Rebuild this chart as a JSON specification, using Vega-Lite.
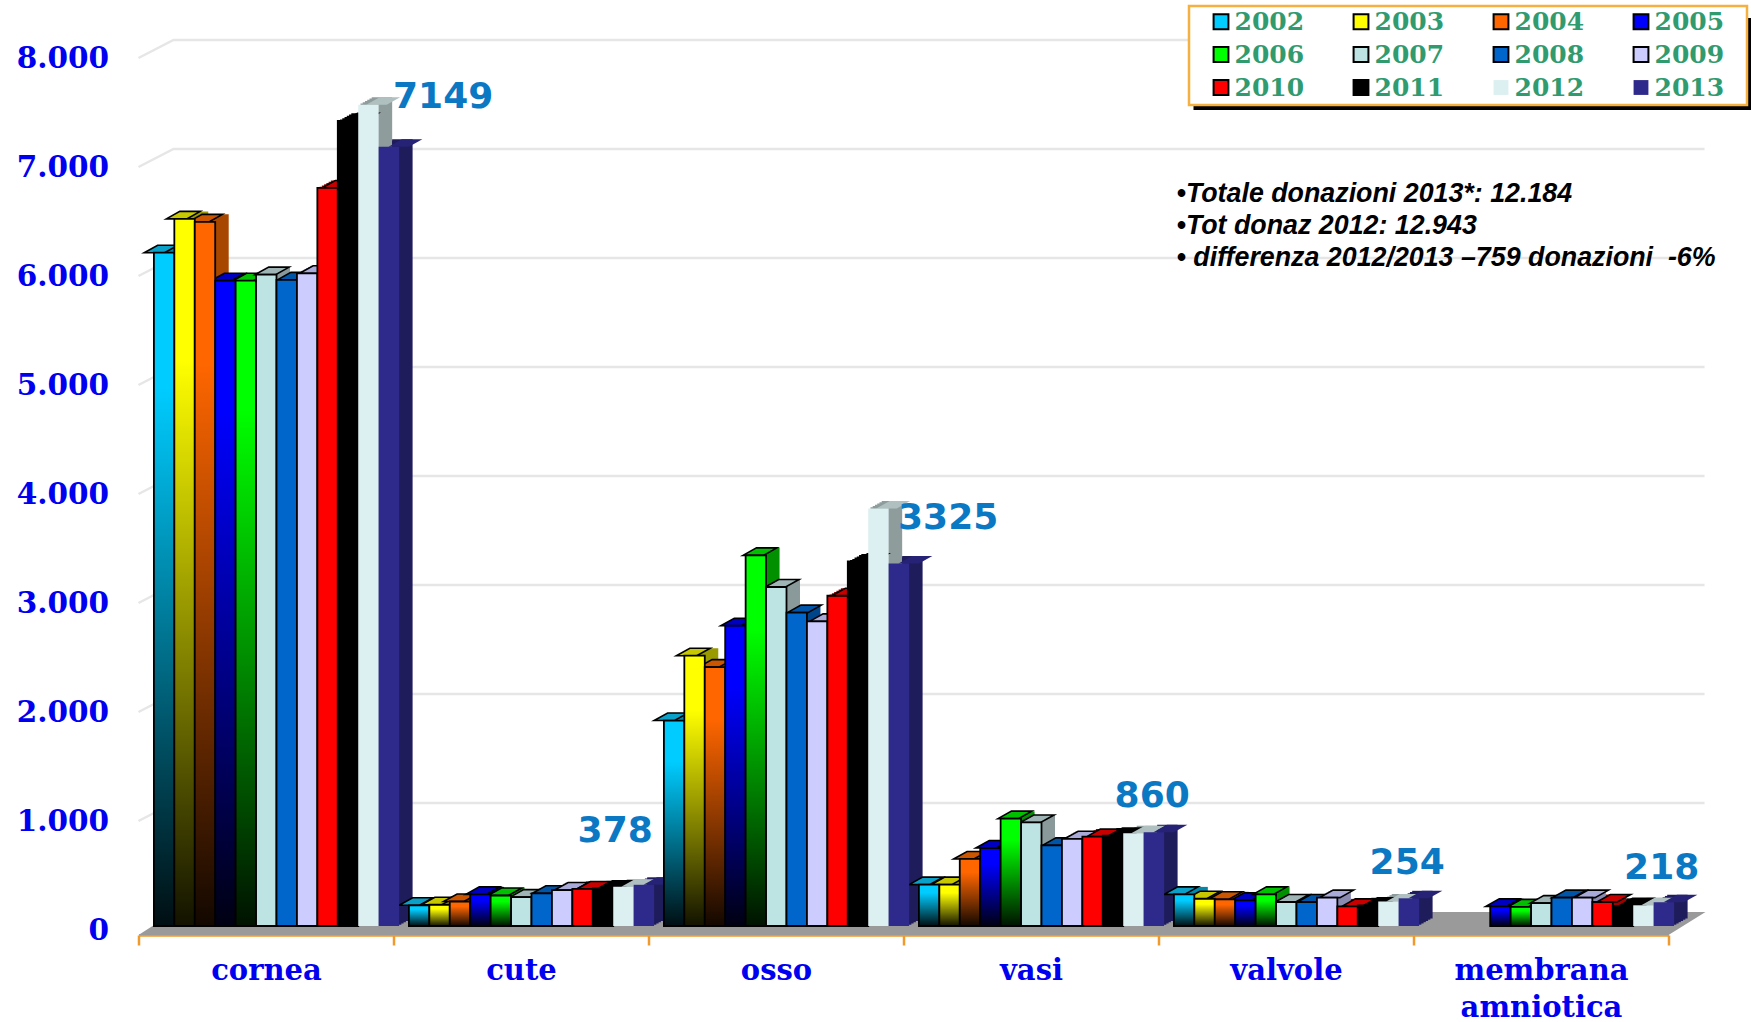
{"$schema":"https://vega.github.io/schema/vega-lite/v6.json","width":1530,"height":872,"autosize":"none","padding":{"left":138.5,"top":58,"right":82.5,"bottom":92},"background":"white","config":{"view":{"stroke":null}},
"datasets":{"bars":[
{"c":"cornea","year":2002,"v":6177},{"c":"cornea","year":2003,"v":6487},{"c":"cornea","year":2004,"v":6460},{"c":"cornea","year":2005,"v":5920},{"c":"cornea","year":2006,"v":5920},{"c":"cornea","year":2007,"v":5976},{"c":"cornea","year":2008,"v":5928},{"c":"cornea","year":2009,"v":5988},{"c":"cornea","year":2010,"v":6771},{"c":"cornea","year":2011,"v":7387},{"c":"cornea","year":2012,"v":7534},{"c":"cornea","year":2013,"v":7149},
{"c":"cute","year":2002,"v":190},{"c":"cute","year":2003,"v":195},{"c":"cute","year":2004,"v":225},{"c":"cute","year":2005,"v":290},{"c":"cute","year":2006,"v":280},{"c":"cute","year":2007,"v":265},{"c":"cute","year":2008,"v":300},{"c":"cute","year":2009,"v":330},{"c":"cute","year":2010,"v":340},{"c":"cute","year":2011,"v":345},{"c":"cute","year":2012,"v":360},{"c":"cute","year":2013,"v":378},
{"c":"osso","year":2002,"v":1885},{"c":"osso","year":2003,"v":2480},{"c":"osso","year":2004,"v":2375},{"c":"osso","year":2005,"v":2755},{"c":"osso","year":2006,"v":3400},{"c":"osso","year":2007,"v":3110},{"c":"osso","year":2008,"v":2875},{"c":"osso","year":2009,"v":2795},{"c":"osso","year":2010,"v":3030},{"c":"osso","year":2011,"v":3345},{"c":"osso","year":2012,"v":3830},{"c":"osso","year":2013,"v":3325},
{"c":"vasi","year":2002,"v":380},{"c":"vasi","year":2003,"v":380},{"c":"vasi","year":2004,"v":615},{"c":"vasi","year":2005,"v":715},{"c":"vasi","year":2006,"v":985},{"c":"vasi","year":2007,"v":950},{"c":"vasi","year":2008,"v":740},{"c":"vasi","year":2009,"v":800},{"c":"vasi","year":2010,"v":820},{"c":"vasi","year":2011,"v":830},{"c":"vasi","year":2012,"v":850},{"c":"vasi","year":2013,"v":860},
{"c":"valvole","year":2002,"v":290},{"c":"valvole","year":2003,"v":250},{"c":"valvole","year":2004,"v":245},{"c":"valvole","year":2005,"v":235},{"c":"valvole","year":2006,"v":290},{"c":"valvole","year":2007,"v":220},{"c":"valvole","year":2008,"v":220},{"c":"valvole","year":2009,"v":260},{"c":"valvole","year":2010,"v":180},{"c":"valvole","year":2011,"v":190},{"c":"valvole","year":2012,"v":225},{"c":"valvole","year":2013,"v":254},
{"c":"membrana amniotica","year":2005,"v":180},{"c":"membrana amniotica","year":2006,"v":175},{"c":"membrana amniotica","year":2007,"v":210},{"c":"membrana amniotica","year":2008,"v":260},{"c":"membrana amniotica","year":2009,"v":260},{"c":"membrana amniotica","year":2010,"v":220},{"c":"membrana amniotica","year":2011,"v":185},{"c":"membrana amniotica","year":2012,"v":190},{"c":"membrana amniotica","year":2013,"v":218}
],
"grid":[{"c":"cornea","tick":1000},{"c":"cornea","tick":2000},{"c":"cornea","tick":3000},{"c":"cornea","tick":4000},{"c":"cornea","tick":5000},{"c":"cornea","tick":6000},{"c":"cornea","tick":7000},{"c":"cornea","tick":8000}],
"origin":[{"c":"cornea","tick":0}],
"anchor":[{"c":"membrana amniotica","tick":8000}],
"notes":[{"c":"valvole","tick":6750,"t":"•Totale donazioni 2013*: 12.184"},{"c":"valvole","tick":6458,"t":"•Tot donaz 2012: 12.943"},{"c":"valvole","tick":6164,"t":"• differenza 2012/2013 –759 donazioni\u00a0\u00a0-6%"}]},
"data":{"name":"bars"},
"encoding":{"x":{"field":"c","type":"nominal","sort":null,"scale":{"type":"band","domain":["cornea","cute","osso","vasi","valvole","membrana amniotica"],"paddingInner":0,"paddingOuter":0},"title":null,"axis":{"offset":5,"domainColor":"#ee9a2c","domainWidth":2.5,"tickColor":"#ee9a2c","tickWidth":2.5,"tickSize":10,"tickBand":"extent","labelAngle":0,"labelFont":"DejaVu Serif","labelFontWeight":"bold","labelFontSize":29,"labelColor":"#0000f0","labelPadding":11,"labelLineHeight":37,"labelExpr":"datum.label == 'membrana amniotica' ? ['membrana','amniotica'] : datum.label"}}},
"layer":[
{"data":{"name":"grid"},"mark":{"type":"point","shape":"M0,0 L35,-18 H1566","size":4,"filled":false,"stroke":"#e6e6e6","strokeWidth":2.5,"opacity":1},"encoding":{"x":{"field":"c","type":"nominal","bandPosition":0},"y":{"field":"tick","type":"quantitative","scale":{"domain":[0,8000],"nice":false},"title":null,"axis":{"values":[0,1000,2000,3000,4000,5000,6000,7000,8000],"grid":false,"domain":false,"ticks":false,"labelPadding":30,"labelFont":"DejaVu Serif","labelFontWeight":"bold","labelFontSize":29.5,"labelColor":"#0000f0","labelExpr":"replace(format(datum.value,','),',','.')"}}}},
{"data":{"name":"origin"},"mark":{"type":"point","shape":"M0,5 L36,-18 H1567 L1530,5 Z","size":4,"filled":true,"fill":"#9a9a9a","opacity":1},"encoding":{"x":{"field":"c","type":"nominal","bandPosition":0},"y":{"field":"tick","type":"quantitative","axis":null,"scale":{"domain":[0,8000],"nice":false}}}},
{"mark":{"type":"bar"},"encoding":{"y":{"field":"v","type":"quantitative","stack":null,"axis":null,"scale":{"domain":[0,8000],"nice":false,"range":[866.7,-5.3]}},"xOffset":{"field":"year","type":"nominal","scale":{"domain":[2002,2003,2004,2005,2006,2007,2008,2009,2010,2011,2012,2013],"paddingInner":0,"paddingOuter":0.24,"range":[12.75,267.75]}},"fill":{"field":"year","type":"nominal","legend":null,"scale":{"range":["#0088aa","#999900","#a84800","#000090","#009000","#8a9a9a","#00458a","#8a8ab0","#a00000","#000000","#8f9c9c","#1f1c5c"]}}}},
{"mark":{"type":"bar"},"encoding":{"y":{"field":"v","type":"quantitative","stack":null,"axis":null,"scale":{"domain":[0,8000],"nice":false,"range":[865.5,-6.5]}},"xOffset":{"field":"year","type":"nominal","scale":{"domain":[2002,2003,2004,2005,2006,2007,2008,2009,2010,2011,2012,2013],"paddingInner":0,"paddingOuter":0.24,"range":[15,270]}},"fill":{"field":"year","type":"nominal","legend":null,"scale":{"range":["#0088aa","#999900","#a84800","#000090","#009000","#8a9a9a","#00458a","#8a8ab0","#a00000","#000000","#8f9c9c","#1f1c5c"]}}}},
{"mark":{"type":"bar"},"encoding":{"y":{"field":"v","type":"quantitative","stack":null,"axis":null,"scale":{"domain":[0,8000],"nice":false,"range":[864.2,-7.8]}},"xOffset":{"field":"year","type":"nominal","scale":{"domain":[2002,2003,2004,2005,2006,2007,2008,2009,2010,2011,2012,2013],"paddingInner":0,"paddingOuter":0.24,"range":[17.25,272.25]}},"fill":{"field":"year","type":"nominal","legend":null,"scale":{"range":["#0088aa","#999900","#a84800","#000090","#009000","#8a9a9a","#00458a","#8a8ab0","#a00000","#000000","#8f9c9c","#1f1c5c"]}}}},
{"mark":{"type":"bar"},"encoding":{"y":{"field":"v","type":"quantitative","stack":null,"axis":null,"scale":{"domain":[0,8000],"nice":false,"range":[863,-9]}},"xOffset":{"field":"year","type":"nominal","scale":{"domain":[2002,2003,2004,2005,2006,2007,2008,2009,2010,2011,2012,2013],"paddingInner":0,"paddingOuter":0.24,"range":[19.5,274.5]}},"fill":{"field":"year","type":"nominal","legend":null,"scale":{"range":["#0088aa","#999900","#a84800","#000090","#009000","#8a9a9a","#00458a","#8a8ab0","#a00000","#000000","#8f9c9c","#1f1c5c"]}}}},
{"mark":{"type":"bar"},"encoding":{"y":{"field":"v","type":"quantitative","stack":null,"axis":null,"scale":{"domain":[0,8000],"nice":false,"range":[861.7,-10.3]}},"xOffset":{"field":"year","type":"nominal","scale":{"domain":[2002,2003,2004,2005,2006,2007,2008,2009,2010,2011,2012,2013],"paddingInner":0,"paddingOuter":0.24,"range":[21.75,276.75]}},"fill":{"field":"year","type":"nominal","legend":null,"scale":{"range":["#0088aa","#999900","#a84800","#000090","#009000","#8a9a9a","#00458a","#8a8ab0","#a00000","#000000","#8f9c9c","#1f1c5c"]}}}},
{"mark":{"type":"bar"},"encoding":{"y":{"field":"v","type":"quantitative","stack":null,"axis":null,"scale":{"domain":[0,8000],"nice":false,"range":[860.5,-11.5]}},"xOffset":{"field":"year","type":"nominal","scale":{"domain":[2002,2003,2004,2005,2006,2007,2008,2009,2010,2011,2012,2013],"paddingInner":0,"paddingOuter":0.24,"range":[24,279]}},"fill":{"field":"year","type":"nominal","legend":null,"scale":{"range":["#0088aa","#999900","#a84800","#000090","#009000","#8a9a9a","#00458a","#8a8ab0","#a00000","#000000","#8f9c9c","#1f1c5c"]}}}},
{"mark":{"type":"point","shape":"M-10.2,0 h20.4 l13.5,-7.5 h-20.4 z","size":4,"filled":true,"opacity":1,"strokeWidth":1.6},"encoding":{"y":{"field":"v","type":"quantitative","axis":null,"scale":{"domain":[0,8000],"nice":false,"range":[868,-4]}},"xOffset":{"field":"year","type":"nominal","scale":{"domain":[2002,2003,2004,2005,2006,2007,2008,2009,2010,2011,2012,2013],"paddingInner":0,"paddingOuter":0.24,"range":[10.5,265.5]}},"fill":{"field":"year","type":"nominal","legend":null,"scale":{"range":["#0aa0c8","#c8c800","#cc5500","#0000c0","#00c000","#9fb5b5","#0055a8","#aaaad8","#c80000","#000000","#b0c0c0","#262275"]}},"stroke":{"field":"year","type":"nominal","legend":null,"scale":{"range":["#000","#000","#000","#000","#000","#000","#000","#000","#000","#000","transparent","transparent"]}}}},
{"data":{"name":"anchor"},"mark":{"type":"point","shape":"M-220,-40 H337.5 V52 H-220 Z","size":4,"filled":true,"fill":"black","opacity":1},"encoding":{"x":{"field":"c","type":"nominal","bandPosition":0},"y":{"field":"tick","type":"quantitative","axis":null,"scale":{"domain":[0,8000],"nice":false}}}},
{"data":{"name":"anchor"},"mark":{"type":"point","shape":"M-224.5,-52 h558 v99 h-558 z","size":4,"filled":true,"fill":"white","stroke":"#f5b040","strokeWidth":2.5,"opacity":1},"encoding":{"x":{"field":"c","type":"nominal","bandPosition":0},"y":{"field":"tick","type":"quantitative","axis":null,"scale":{"domain":[0,8000],"nice":false}}}},
{"mark":{"type":"bar","strokeWidth":1.8},"encoding":{"y":{"field":"v","type":"quantitative","stack":null,"axis":null,"scale":{"domain":[0,8000],"nice":false,"range":[868,-4]}},"xOffset":{"field":"year","type":"nominal","scale":{"domain":[2002,2003,2004,2005,2006,2007,2008,2009,2010,2011,2012,2013],"paddingInner":0,"paddingOuter":0.24,"range":[10.5,265.5]}},"stroke":{"field":"year","type":"nominal","legend":null,"scale":{"range":["#000","#000","#000","#000","#000","#000","#000","#000","#000","#000","transparent","transparent"]}},"fill":{"field":"year","type":"nominal","scale":{"range":["#00ccff","#ffff00","#ff6600","#0000ff","#00ff00","#bde3e3","#0066cc","#ccccff","#ff0000","#000000","#dceff1","#2e2a8c"]},
"legend":{"title":null,"orient":"none","legendX":1070,"legendY":-49,"columns":4,"direction":"horizontal","symbolType":"square","symbolSize":220,"symbolStrokeWidth":2,"labelFont":"DejaVu Serif","labelFontWeight":"bold","labelFontSize":25,"labelColor":"#319b70","labelOffset":1,"columnPadding":44,"rowPadding":7,"padding":0,"encode":{"symbols":{"update":{"stroke":{"signal":"datum.value >= 2011 ? 'transparent' : '#111'"},"opacity":{"value":1}}}}}}}},
{"transform":[{"filter":"datum.year <= 2006"}],"mark":{"type":"bar","fill":{"gradient":"linear","x1":0,"y1":0,"x2":0,"y2":1,"stops":[{"offset":0.2,"color":"rgba(0,0,0,0)"},{"offset":1,"color":"rgba(0,0,0,0.93)"}]}},"encoding":{"y":{"field":"v","type":"quantitative","stack":null,"axis":null,"scale":{"domain":[0,8000],"nice":false,"range":[868,-4]}},"xOffset":{"field":"year","type":"nominal","scale":{"domain":[2002,2003,2004,2005,2006,2007,2008,2009,2010,2011,2012,2013],"paddingInner":0,"paddingOuter":0.24,"range":[10.5,265.5]}}}},
{"transform":[{"filter":"datum.year == 2013 && datum.c == 'cornea'"}],"mark":{"type":"text","font":"DejaVu Sans","fontWeight":"bold","fontSize":36,"fill":"#0b78c4","baseline":"middle","align":"center","dx":55,"dy":-54},"encoding":{"y":{"field":"v","type":"quantitative","axis":null,"scale":{"domain":[0,8000],"nice":false}},"xOffset":{"field":"year","type":"nominal","scale":{"domain":[2002,2003,2004,2005,2006,2007,2008,2009,2010,2011,2012,2013],"paddingInner":0,"paddingOuter":0.24,"range":[0,255]}},"text":{"field":"v","type":"quantitative","format":"d"}}},
{"transform":[{"filter":"datum.year == 2013 && datum.c == 'cute'"}],"mark":{"type":"text","font":"DejaVu Sans","fontWeight":"bold","fontSize":36,"fill":"#0b78c4","baseline":"middle","align":"center","dx":-28,"dy":-58},"encoding":{"y":{"field":"v","type":"quantitative","axis":null,"scale":{"domain":[0,8000],"nice":false}},"xOffset":{"field":"year","type":"nominal","scale":{"domain":[2002,2003,2004,2005,2006,2007,2008,2009,2010,2011,2012,2013],"paddingInner":0,"paddingOuter":0.24,"range":[0,255]}},"text":{"field":"v","type":"quantitative","format":"d"}}},
{"transform":[{"filter":"datum.year == 2013 && datum.c == 'osso'"}],"mark":{"type":"text","font":"DejaVu Sans","fontWeight":"bold","fontSize":36,"fill":"#0b78c4","baseline":"middle","align":"center","dx":50,"dy":-50},"encoding":{"y":{"field":"v","type":"quantitative","axis":null,"scale":{"domain":[0,8000],"nice":false}},"xOffset":{"field":"year","type":"nominal","scale":{"domain":[2002,2003,2004,2005,2006,2007,2008,2009,2010,2011,2012,2013],"paddingInner":0,"paddingOuter":0.24,"range":[0,255]}},"text":{"field":"v","type":"quantitative","format":"d"}}},
{"transform":[{"filter":"datum.year == 2013 && datum.c == 'vasi'"}],"mark":{"type":"text","font":"DejaVu Sans","fontWeight":"bold","fontSize":36,"fill":"#0b78c4","baseline":"middle","align":"center","dx":-1,"dy":-40},"encoding":{"y":{"field":"v","type":"quantitative","axis":null,"scale":{"domain":[0,8000],"nice":false}},"xOffset":{"field":"year","type":"nominal","scale":{"domain":[2002,2003,2004,2005,2006,2007,2008,2009,2010,2011,2012,2013],"paddingInner":0,"paddingOuter":0.24,"range":[0,255]}},"text":{"field":"v","type":"quantitative","format":"d"}}},
{"transform":[{"filter":"datum.year == 2013 && datum.c == 'valvole'"}],"mark":{"type":"text","font":"DejaVu Sans","fontWeight":"bold","fontSize":36,"fill":"#0b78c4","baseline":"middle","align":"center","dx":-1,"dy":-39},"encoding":{"y":{"field":"v","type":"quantitative","axis":null,"scale":{"domain":[0,8000],"nice":false}},"xOffset":{"field":"year","type":"nominal","scale":{"domain":[2002,2003,2004,2005,2006,2007,2008,2009,2010,2011,2012,2013],"paddingInner":0,"paddingOuter":0.24,"range":[0,255]}},"text":{"field":"v","type":"quantitative","format":"d"}}},
{"transform":[{"filter":"datum.year == 2013 && datum.c == 'membrana amniotica'"}],"mark":{"type":"text","font":"DejaVu Sans","fontWeight":"bold","fontSize":36,"fill":"#0b78c4","baseline":"middle","align":"center","dx":-1.5,"dy":-38},"encoding":{"y":{"field":"v","type":"quantitative","axis":null,"scale":{"domain":[0,8000],"nice":false}},"xOffset":{"field":"year","type":"nominal","scale":{"domain":[2002,2003,2004,2005,2006,2007,2008,2009,2010,2011,2012,2013],"paddingInner":0,"paddingOuter":0.24,"range":[0,255]}},"text":{"field":"v","type":"quantitative","format":"d"}}},
{"data":{"name":"notes"},"mark":{"type":"text","font":"Liberation Sans","fontWeight":"bold","fontStyle":"italic","fontSize":26.8,"fill":"black","align":"left","baseline":"middle","dx":18},"encoding":{"x":{"field":"c","type":"nominal","bandPosition":0},"y":{"field":"tick","type":"quantitative","axis":null,"scale":{"domain":[0,8000],"nice":false}},"text":{"field":"t"}}}
],
"resolve":{"scale":{"fill":"independent","stroke":"independent","xOffset":"independent","y":"independent"}}}
